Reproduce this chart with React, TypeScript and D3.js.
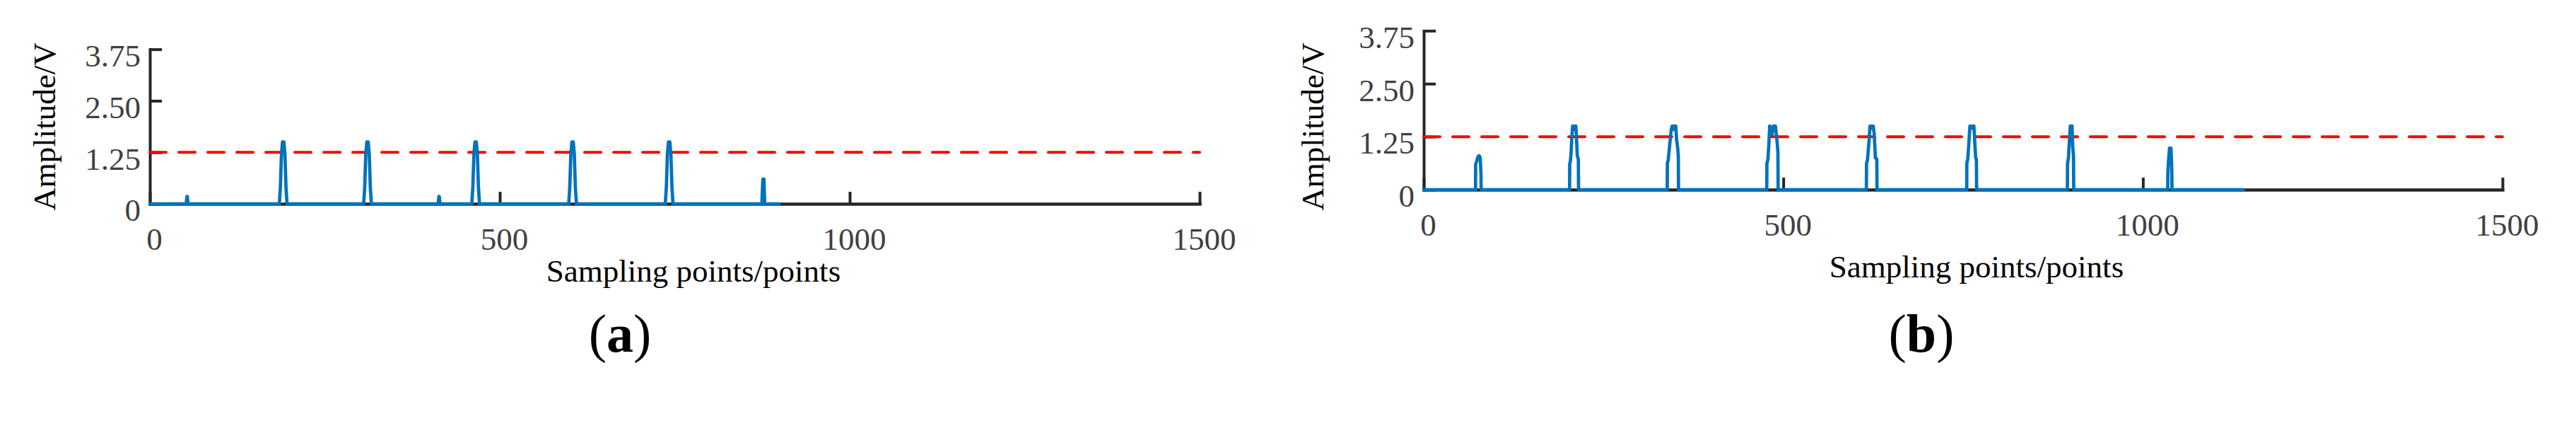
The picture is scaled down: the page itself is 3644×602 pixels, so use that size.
import { useRef, useEffect } from 'react';
import * as d3 from 'd3';

type Pt = [number, number];

// tick values and labels
const sampleTicks = [0, 500, 1000, 1500];
const ampTicks = [0, 1.25, 2.5, 3.75];
const threshold = 1.25;
const xTitle = 'Sampling points/points';
const yTitle = 'Amplitude/V';

const signalA: Pt[] = [
  [0, 0],
  [52, 0], [53, 0.18], [53.5, 0.18], [54.5, 0],
  [185, 0], [186.5, 0.4], [188, 1.2], [189.5, 1.5], [191.5, 1.5], [193, 1.2], [194.5, 0.4], [196, 0],
  [305.5, 0], [307, 0.4], [308.5, 1.2], [310, 1.5], [312, 1.5], [313.5, 1.2], [315, 0.4], [316.5, 0],
  [412, 0], [413, 0.18], [413.5, 0.18], [414.5, 0],
  [460, 0], [461.5, 0.4], [463, 1.2], [464.5, 1.5], [466.5, 1.5], [468, 1.2], [469.5, 0.4], [471, 0],
  [598.5, 0], [600, 0.4], [601.5, 1.2], [603, 1.5], [605, 1.5], [606.5, 1.2], [608, 0.4], [609.5, 0],
  [736.5, 0], [738, 0.4], [739.5, 1.2], [741, 1.5], [743, 1.5], [744.5, 1.2], [746, 0.4], [747.5, 0],
  [874.5, 0], [875.5, 0.45], [876, 0.6], [877.5, 0.6], [878.5, 0],
  [899, 0],
];

// (b) sampled signal
const signalB: Pt[] = [
  [0, 0],
  [72, 0], [72.2, 0.6], [73.5, 0.66], [75.5, 0.78], [77, 0.8], [78.5, 0.76], [79.6, 0.4], [79.8, 0],
  [202.8, 0], [203, 0.6], [204, 0.68], [205, 0.9], [206, 1.25], [207, 1.5], [209, 1.42], [210, 1.5], [211.5, 1.5], [212.5, 1.2], [213.5, 0.8], [215, 0.72], [215.3, 0],
  [338.6, 0], [338.8, 0.62], [340, 0.7], [342, 1.05], [344, 1.4], [345.5, 1.5], [347, 1.42], [348, 1.5], [350.5, 1.5], [351.5, 1.2], [353, 1.0], [354, 0.8], [354.3, 0],
  [477, 0], [477.2, 0.62], [478.5, 0.7], [480, 1.1], [481, 1.5], [483, 1.45], [484.5, 1.3], [486, 1.5], [489, 1.5], [491, 1.2], [492.5, 0.9], [492.8, 0],
  [615.5, 0], [615.7, 0.62], [617, 0.7], [619, 1.1], [620.5, 1.5], [622, 1.5], [623.5, 1.45], [625, 1.5], [626.5, 1.3], [628, 0.75], [630, 0.72], [630.3, 0],
  [755, 0], [755.2, 0.62], [756.5, 0.72], [758, 1.1], [759.5, 1.5], [761.5, 1.45], [763, 1.5], [765, 1.5], [766.5, 1.05], [767.5, 0.75], [768.5, 0.72], [768.8, 0],
  [895, 0], [895.2, 0.62], [896.5, 0.75], [898, 1.2], [899, 1.5], [901.5, 1.5], [902.5, 1.0], [903.5, 0.8], [903.8, 0],
  [1034.5, 0], [1034.7, 0.4], [1035.5, 0.65], [1037, 0.98], [1039, 0.98], [1040, 0.6], [1040.5, 0],
  [1140, 0],
];

// layout of the two panels (pixels)
const panels = [
  { tag: 'a', data: signalA, left: 212, right: 1697, base: 288, top: 69.6, xTitleX: 981, xTitleY: 398, yTitleX: 78, yTitleY: 179, tagX: 877, tagY: 497 },
  { tag: 'b', data: signalB, left: 2014, right: 3540, base: 268, top: 43.4, xTitleX: 2796, xTitleY: 392, yTitleX: 1872, yTitleY: 179, tagX: 2718, tagY: 497 },
];

const FONT = '"Liberation Serif", "Times New Roman", Times, serif';
const AXIS = '#262626';
const TICKTXT = '#404040';

type PanelCfg = typeof panels[number];

const Panel = ({ cfg }: { cfg: PanelCfg }) => {
  const ref = useRef<SVGGElement>(null);

  useEffect(() => {
    const g = d3.select(ref.current);
    g.selectAll('*').remove();

    const x = d3.scaleLinear().domain([0, 1500]).range([cfg.left, cfg.right]);
    const y = d3.scaleLinear().domain([0, 3.75]).range([cfg.base, cfg.top]);

    // x axis, inward ticks
    g.append('g')
      .attr('transform', `translate(0,${cfg.base})`)
      .call(d3.axisBottom(x).tickValues(sampleTicks).tickSize(-17).tickSizeOuter(0).tickPadding(33).tickFormat(d3.format('d')))
      .call(a => a.attr('font-size', 45).attr('font-family', FONT))
      .call(a => a.select('.domain').attr('stroke', AXIS).attr('stroke-width', 4.5).attr('stroke-linecap', 'square'))
      .call(a => a.selectAll('.tick line').attr('stroke', AXIS).attr('stroke-width', 4))
      .call(a => a.selectAll('.tick text').attr('fill', TICKTXT).attr('dx', 6));

    // y axis
    g.append('g')
      .attr('transform', `translate(${cfg.left},0)`)
      .call(d3.axisLeft(y).tickValues(ampTicks).tickSize(-17).tickSizeOuter(0).tickPadding(13)
        .tickFormat(d => (+d === 0 ? '0' : d3.format('.2f')(+d))))
      .call(a => a.attr('font-size', 45).attr('font-family', FONT))
      .call(a => a.select('.domain').attr('stroke', AXIS).attr('stroke-width', 4).attr('stroke-linecap', 'square'))
      .call(a => a.selectAll('.tick line').attr('stroke', AXIS).attr('stroke-width', 4))
      .call(a => a.selectAll('.tick text').attr('fill', TICKTXT).attr('dy', '0.53em'));

    // threshold
    g.append('line')
      .attr('x1', x(0)).attr('x2', x(1500))
      .attr('y1', y(threshold)).attr('y2', y(threshold))
      .attr('stroke', '#FF0000').attr('stroke-width', 4)
      .attr('stroke-dasharray', '23 18').attr('stroke-linecap', 'round');

    const line = d3.line<Pt>().x(d => x(d[0])).y(d => y(d[1]));
    g.append('path')
      .datum(cfg.data)
      .attr('fill', 'none')
      .attr('stroke', '#0072BD')
      .attr('stroke-width', 4.7)
      .attr('stroke-linejoin', 'round')
      .attr('stroke-linecap', 'round')
      .attr('d', line);

    // titles
    g.append('text')
      .attr('transform', `translate(${cfg.yTitleX},${cfg.yTitleY}) rotate(-90)`)
      .attr('text-anchor', 'middle')
      .attr('font-family', FONT).attr('font-size', 45).attr('fill', '#000')
      .text(yTitle);

    g.append('text')
      .attr('x', cfg.xTitleX).attr('y', cfg.xTitleY)
      .attr('text-anchor', 'middle')
      .attr('font-family', FONT).attr('font-size', 45).attr('fill', '#000')
      .text(xTitle);

    const t = g.append('text')
      .attr('x', cfg.tagX).attr('y', cfg.tagY)
      .attr('text-anchor', 'middle')
      .attr('font-family', FONT).attr('font-size', 76).attr('fill', '#000');
    t.append('tspan').text('(');
    t.append('tspan').attr('font-weight', 'bold').text(cfg.tag);
    t.append('tspan').text(')');
  }, [cfg]);

  return <g ref={ref} />;
};

export default function App() {
  return (
    <svg
      width={3644}
      height={602}
      style={{ position: 'absolute', left: 0, top: 0, display: 'block', background: '#fff' }}
    >
      <rect width={3644} height={602} fill="#fff" />
      {panels.map(p => <Panel key={p.tag} cfg={p} />)}
    </svg>
  );
}
